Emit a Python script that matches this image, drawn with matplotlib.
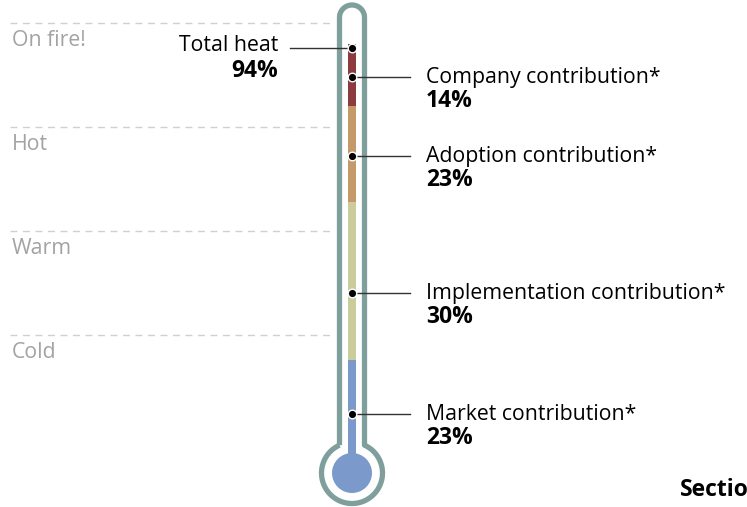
import matplotlib.pyplot as plt
import numpy as np
from matplotlib.patches import Circle, Rectangle, PathPatch
from matplotlib.path import Path

plt.rcParams['font.family'] = ['Open Sans', 'DejaVu Sans']

# Data
zones = ['On fire!', 'Hot', 'Warm', 'Cold']
zone_tops = [100, 75, 50, 25]
total_heat = 94
parts = ['Company contribution*', 'Adoption contribution*',
         'Implementation contribution*', 'Market contribution*']
part_values = [14, 23, 30, 23]
part_colors = ['#8c3b3f', '#c59a6b', '#cbcb9b', '#7b9acb']
# fill boundaries read from the column (top of each segment, in %)
seg_tops = [95, 80, 57, 19]
# where each leader touches the column (in %)
dot_levels = [87, 68, 35, 6]

# scale: percent -> pixel row
Y0, PX = 439, 4.16
def ypos(v):
    return Y0 - PX * v

fig = plt.figure(figsize=(7.47, 5.07), dpi=100)
ax = fig.add_axes([0, 0, 1, 1])
ax.set_xlim(0, 747)
ax.set_ylim(507, 0)
ax.axis('off')

cx = 352
tube_col = '#7f9f9c'
fs = 15.3
fs_b = 16.5

# zone gridlines and labels
for name, top in zip(zones, zone_tops):
    y = ypos(top)
    ax.plot([10, 335], [y, y], color='#d0d0d0', lw=1, dashes=(5, 4))
    ax.text(12, y + 17, name, color='#a3a3a3', fontsize=fs, ha='left', va='center')

# thermometer outline
bulb_cy, ring_r, half_w, cap_cy = 473, 30.5, 12.5, 17.5
join = np.arcsin(half_w / ring_r)
pts = [(cx - half_w, bulb_cy - ring_r * np.cos(join)), (cx - half_w, cap_cy)]
for a in np.linspace(np.pi, 0, 40):
    pts.append((cx + half_w * np.cos(a), cap_cy - half_w * np.sin(a)))
pts.append((cx + half_w, bulb_cy - ring_r * np.cos(join)))
for a in np.linspace(np.pi / 2 - join, -3 * np.pi / 2 + join, 120):
    pts.append((cx + ring_r * np.cos(a), bulb_cy - ring_r * np.sin(a)))
outline = Path(pts)
ax.add_patch(PathPatch(outline, facecolor='white', edgecolor=tube_col, lw=3.8,
                       joinstyle='round', zorder=2))

# fill column
col_w = 8
bottoms = [seg_tops[1], seg_tops[2], seg_tops[3], None]
for top, bot, c in zip(seg_tops, bottoms, part_colors):
    y_top = ypos(top)
    y_bot = ypos(bot) if bot is not None else bulb_cy
    ax.add_patch(Rectangle((cx - col_w / 2, y_top), col_w, y_bot - y_top,
                           facecolor=c, edgecolor='none', zorder=3))
ax.add_patch(Circle((cx, bulb_cy), 20, facecolor=part_colors[-1], edgecolor='none', zorder=3))

# total heat label
yt = ypos(total_heat)
ax.plot([290, cx], [yt, yt], color='#333333', lw=1, zorder=4)
ax.scatter([cx], [yt], s=38, color='black', edgecolor='white', lw=1, zorder=5)
ax.text(278, yt - 2, 'Total heat', fontsize=fs, ha='right', va='center')
ax.text(278, yt + 23, f'{total_heat}%', fontsize=fs_b, fontweight='bold', ha='right', va='center')

# contributions
for name, val, lev in zip(parts, part_values, dot_levels):
    y = ypos(lev)
    ax.plot([cx, 410], [y, y], color='#333333', lw=1, zorder=4)
    ax.scatter([cx], [y], s=38, color='black', edgecolor='white', lw=1, zorder=5)
    ax.text(426, y, name, fontsize=fs, ha='left', va='center')
    ax.text(426, y + 24, f'{val}%', fontsize=fs_b, fontweight='bold', ha='left', va='center')

ax.text(680, 490, 'Section', fontsize=fs_b, fontweight='bold', ha='left', va='center')

plt.savefig('out.png', dpi=100)
plt.close()
